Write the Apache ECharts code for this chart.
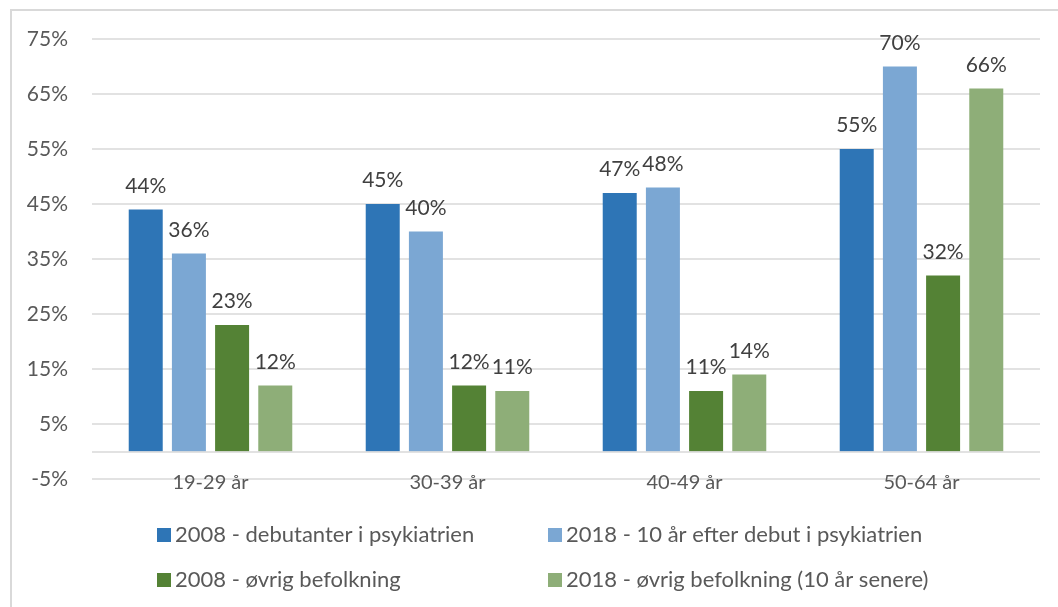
<!DOCTYPE html>
<html>
<head>
<meta charset="utf-8">
<script src="https://cdn.jsdelivr.net/npm/echarts@6/dist/echarts.min.js"></script>
<style>html,body{margin:0;padding:0;background:#fff}#c{width:1058px;height:607px}</style>
</head>
<body>
<div id="c"></div>
<script>
const categories = ['19-29 år', '30-39 år', '40-49 år', '50-64 år'];
const seriesNames = [
  '2008 - debutanter i psykiatrien',
  '2018 - 10 år efter debut i psykiatrien',
  '2008 - øvrig befolkning',
  '2018 - øvrig befolkning (10 år senere)'
];
const debut2008 = [44, 45, 47, 55];
const debut2018 = [36, 40, 48, 70];
const pop2008 = [23, 12, 11, 32];
const pop2018 = [12, 11, 14, 66];
const yTicks = { min: -5, max: 75, interval: 10 };

const colors = ['#2E75B6', '#7BA7D3', '#548235', '#8EAE78'];
const FONT = 'Lato';
const values = [debut2008, debut2018, pop2008, pop2018];

const chart = echarts.init(document.getElementById('c'));
const series = values.map((v, i) => ({
  name: seriesNames[i],
  type: 'bar',
  data: v,
  barWidth: 34,
  barGap: '27%',
  itemStyle: { color: colors[i] },
  label: {
    show: true, position: 'top', distance: 13,
    formatter: p => p.value + '%',
    fontFamily: FONT, fontSize: 21, color: '#404040'
  },
  markLine: i === 0 ? {
    silent: true, symbol: 'none', label: { show: false },
    lineStyle: { color: '#d9d9d9', type: 'solid', width: 1.5 },
    data: [{ yAxis: 0 }]
  } : undefined,
  z: 3
}));

const legendPos = [[152, 519], [543, 519], [152, 564], [543, 564]];
const legends = seriesNames.map((n, i) => ({
  data: [n],
  left: legendPos[i][0], top: legendPos[i][1],
  icon: 'rect', itemWidth: 14, itemHeight: 14, itemGap: 5,
  textStyle: { fontFamily: FONT, fontSize: 22, color: '#595959', padding: [0,0,0,-1] },
  selectedMode: false
}));

chart.setOption({
  animation: false,
  color: colors,
  graphic: [{
    type: 'rect', shape: { x: 11, y: 10, width: 1200, height: 800 },
    style: { fill: 'none', stroke: '#d9d9d9', lineWidth: 2 }, silent: true
  }],
  legend: legends,
  grid: { left: 92, right: 18, top: 39, bottom: 128, containLabel: false },
  xAxis: {
    type: 'category', data: categories,
    axisLine: { show: false, onZero: false },
    axisTick: { show: false },
    axisLabel: { fontFamily: FONT, fontSize: 20, color: '#595959', margin: -6 }
  },
  yAxis: {
    type: 'value', min: yTicks.min, max: yTicks.max, interval: yTicks.interval,
    axisLine: { show: false }, axisTick: { show: false },
    axisLabel: { formatter: v => v + '%', fontFamily: FONT, fontSize: 21, color: '#595959', margin: 24 },
    splitLine: { lineStyle: { color: '#d9d9d9', width: 1.5 } }
  },
  series: series
});
</script>
</body>
</html>
